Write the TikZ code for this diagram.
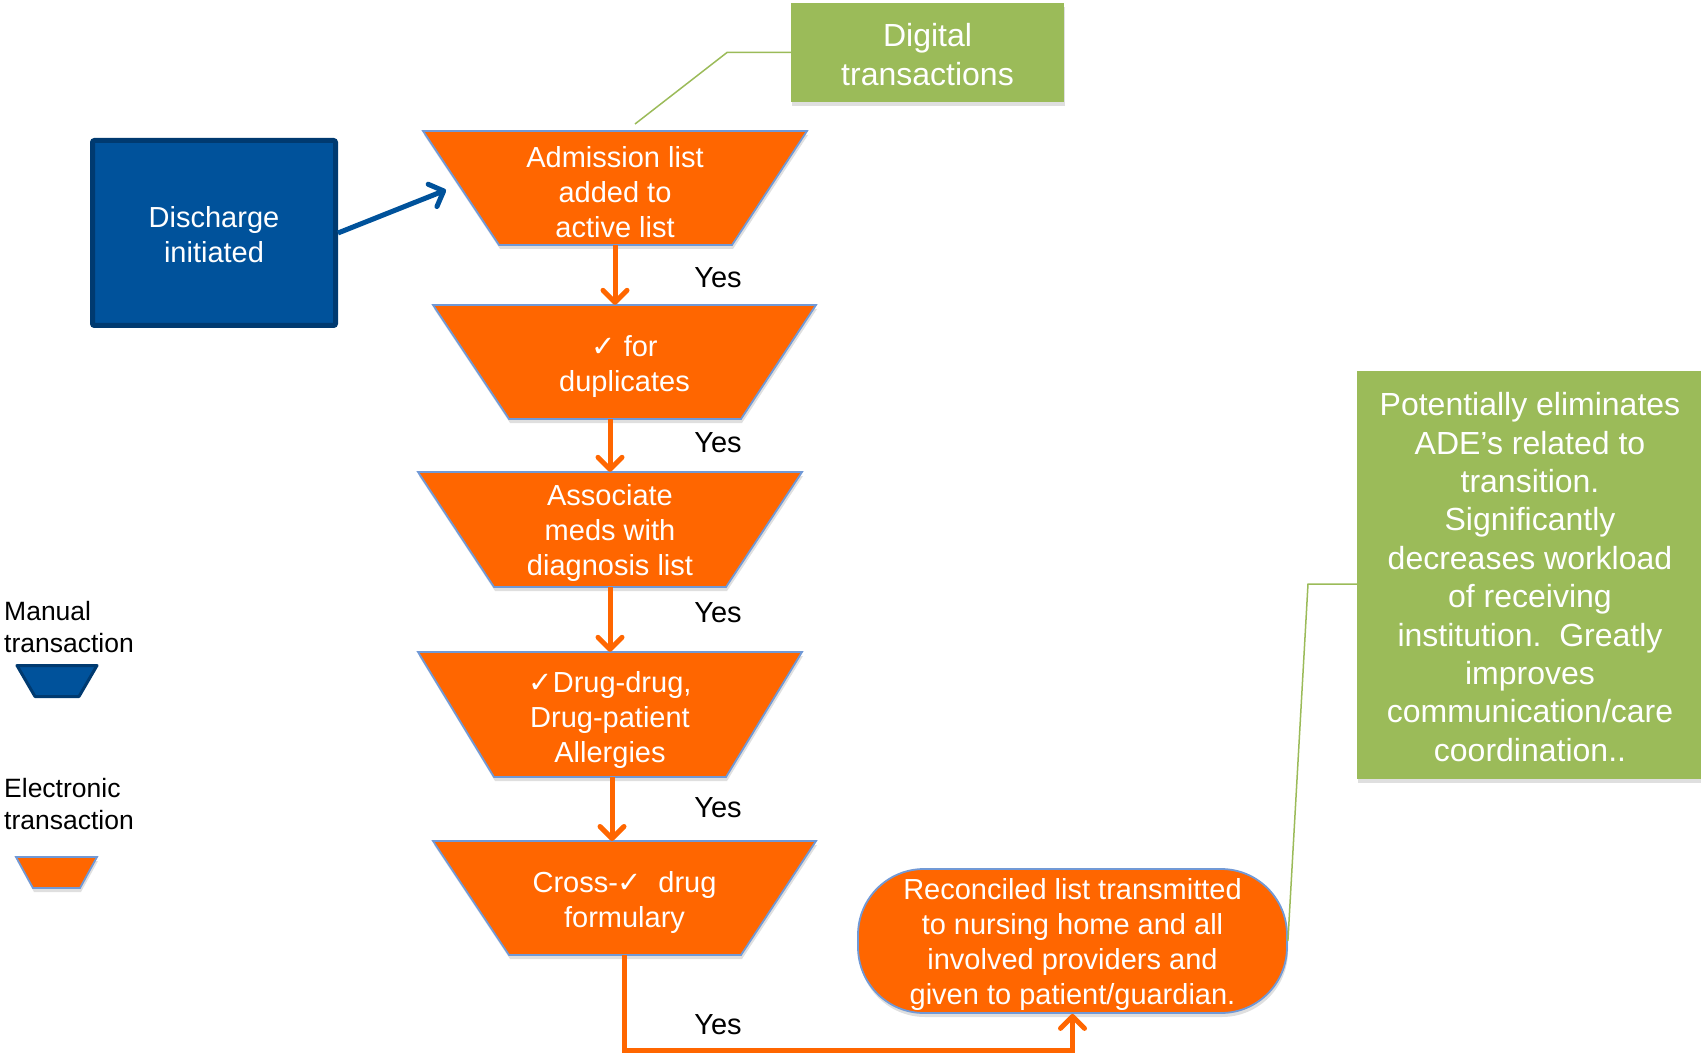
\documentclass[tikz,border=0pt]{standalone}
\usepackage{fontspec}
\setmainfont{Liberation Sans}
\newfontfamily\symbfont{DejaVu Sans}
\usetikzlibrary{arrows.meta,shadows,calc}
\definecolor{elecorange}{HTML}{FF6600}
\definecolor{trapedge}{HTML}{7199D6}
\definecolor{manblue}{HTML}{00529B}
\definecolor{manedge}{HTML}{003A70}
\definecolor{notegreen}{HTML}{9BBB59}
\newcommand\chk{{\symbfont ✓}}

\begin{document}
\begin{tikzpicture}[x=1pt,y=-1pt,
  softshadow/.style={drop shadow={opacity=0.25,shadow xshift=1pt,shadow yshift=-4pt}},
  eshape/.style={fill=elecorange,draw=trapedge,line width=1.8pt,softshadow},
  stepbox/.style={inner sep=0pt},
  steptext/.style={text=white,align=center,inner sep=0pt,
    font=\fontsize{29}{35}\selectfont},
  yeslabel/.style={text=black,inner sep=0pt,font=\fontsize{29}{35}\selectfont},
  legendtext/.style={anchor=west,align=left,inner sep=0pt,
    font=\fontsize{26.5}{32}\selectfont},
  note/.style={fill=notegreen,text=white,align=center,inner sep=0pt,softshadow},
  callout/.style={draw=notegreen,line width=1.5pt},
  flow/.style={draw=elecorange,line width=5pt,
    -{Straight Barb[length=12pt,width=24pt,round]}},
  manualflow/.style={draw=manblue,line width=5pt,
    -{Straight Barb[length=12pt,width=24pt,round]}}]

\useasboundingbox (0,0) rectangle (1701,1059);

% --- electronic steps (trapezoids) ---
\path[eshape] (423,131) -- (807,131) -- (732,245) -- (499,245) -- cycle;
\node[stepbox,minimum width=384pt,minimum height=114pt] (t1) at (615,188) {};
\node[steptext] (t1txt) at ($(t1.center)+(0,4)$)
  {Admission list\\added to\\active list};

\path[eshape] (433,305) -- (816,305) -- (741,419) -- (509,419) -- cycle;
\node[stepbox,minimum width=383pt,minimum height=114pt] (t2) at (624.5,362) {};
\node[steptext] (t2txt) at ($(t2.center)+(0,5)$)
  {\chk\ for\\duplicates};

\path[eshape] (418,472) -- (802,472) -- (726,587) -- (494,587) -- cycle;
\node[stepbox,minimum width=384pt,minimum height=115pt] (t3) at (610,529.5) {};
\node[steptext] (t3txt) at ($(t3.center)+(0,4)$)
  {Associate\\meds with\\diagnosis list};

\path[eshape] (418,652) -- (802,652) -- (726,777) -- (494,777) -- cycle;
\node[stepbox,minimum width=384pt,minimum height=125pt] (t4) at (610,714.5) {};
\node[steptext] (t4txt) at ($(t4.center)+(0,5)$)
  {\chk Drug-drug,\\Drug-patient\\Allergies};

\path[eshape] (433,841) -- (816,841) -- (741,955) -- (509,955) -- cycle;
\node[stepbox,minimum width=383pt,minimum height=114pt] (t5) at (624.5,898) {};
\node[steptext] (t5txt) at ($(t5.center)+(0,4)$)
  {Cross-\chk\ \ drug\\formulary};

% --- final step ---
\node[fill=elecorange,draw=trapedge,line width=1.8pt,softshadow,
  rounded corners=66pt,minimum width=429pt,minimum height=144pt,inner sep=0pt]
  (rec) at (1072.5,941) {};
\node[steptext] (rectxt) at ($(rec.center)+(0,3)$)
  {Reconciled list transmitted\\to nursing home and all\\involved providers and\\given to patient/guardian.};

% --- manual start ---
\node[draw=manedge,fill=manblue,line width=5pt,rounded corners=2pt,
  minimum width=243pt,minimum height=185pt,inner sep=0pt] (dis) at (214,233) {};
\node[steptext] (distxt) at ($(dis.center)+(0,2)$) {Discharge\\initiated};

% --- notes ---
\node[note,minimum width=273pt,minimum height=99pt] (dig) at (927.5,52.5) {};
\node[steptext,font=\fontsize{32}{39}\selectfont] (digtxt)
  at ($(dig.center)+(0,2)$) {Digital\\transactions};
\node[note,minimum width=346pt,minimum height=408pt] (big) at (1530,575) {};
\node[steptext,font=\fontsize{32}{38.4}\selectfont] (bigtxt)
  at ($(big.center)+(0,2)$)
  {Potentially eliminates\\ADE’s related to\\transition.\\Significantly\\decreases workload\\of receiving\\institution.\ \ Greatly\\improves\\communication/care\\coordination..};

% --- connectors ---
\coordinate (t1in) at (446,190);
\draw[manualflow] (dis.east) -- (t1in);

\draw[flow] (t1.south) -- (t1.south |- t2.north);
\draw[flow] (t3.north |- t2.south) -- (t3.north);
\draw[flow] (t3.south) -- (t4.north);
\draw[flow] (612,777) -- (612,841);
\coordinate (bend) at (1072.5,1050);
\draw[flow] (t5.south) |- (bend) -- (rec.south);

\node[yeslabel] (y1) at (718,278) {Yes};
\node[yeslabel] (y2) at (718,443) {Yes};
\node[yeslabel] (y3) at (718,613) {Yes};
\node[yeslabel] (y4) at (718,808) {Yes};
\node[yeslabel] (y5) at (718,1025) {Yes};

% --- callout leaders ---
\coordinate (dk1) at (727,52.5);
\coordinate (dk2) at (635,124);
\draw[callout] (dig.west) -- (dk1) -- (dk2);
\coordinate (bk1) at (1308,584);
\draw[callout] (big.west |- bk1) -- (bk1) -- (rec.east);

% --- legend ---
\node[legendtext] (lgm) at (4,627.5) {Manual\\transaction};
\path[fill=manblue,draw=manedge,line width=3pt,line join=round]
  (17,665.5) -- (97,665.5) -- (79,696.5) -- (35,696.5) -- cycle;
\node[legendtext] (lge) at (4,804) {Electronic\\transaction};
\path[eshape] (16,857) -- (97,857) -- (80,888) -- (33,888) -- cycle;
\end{tikzpicture}
\end{document}
